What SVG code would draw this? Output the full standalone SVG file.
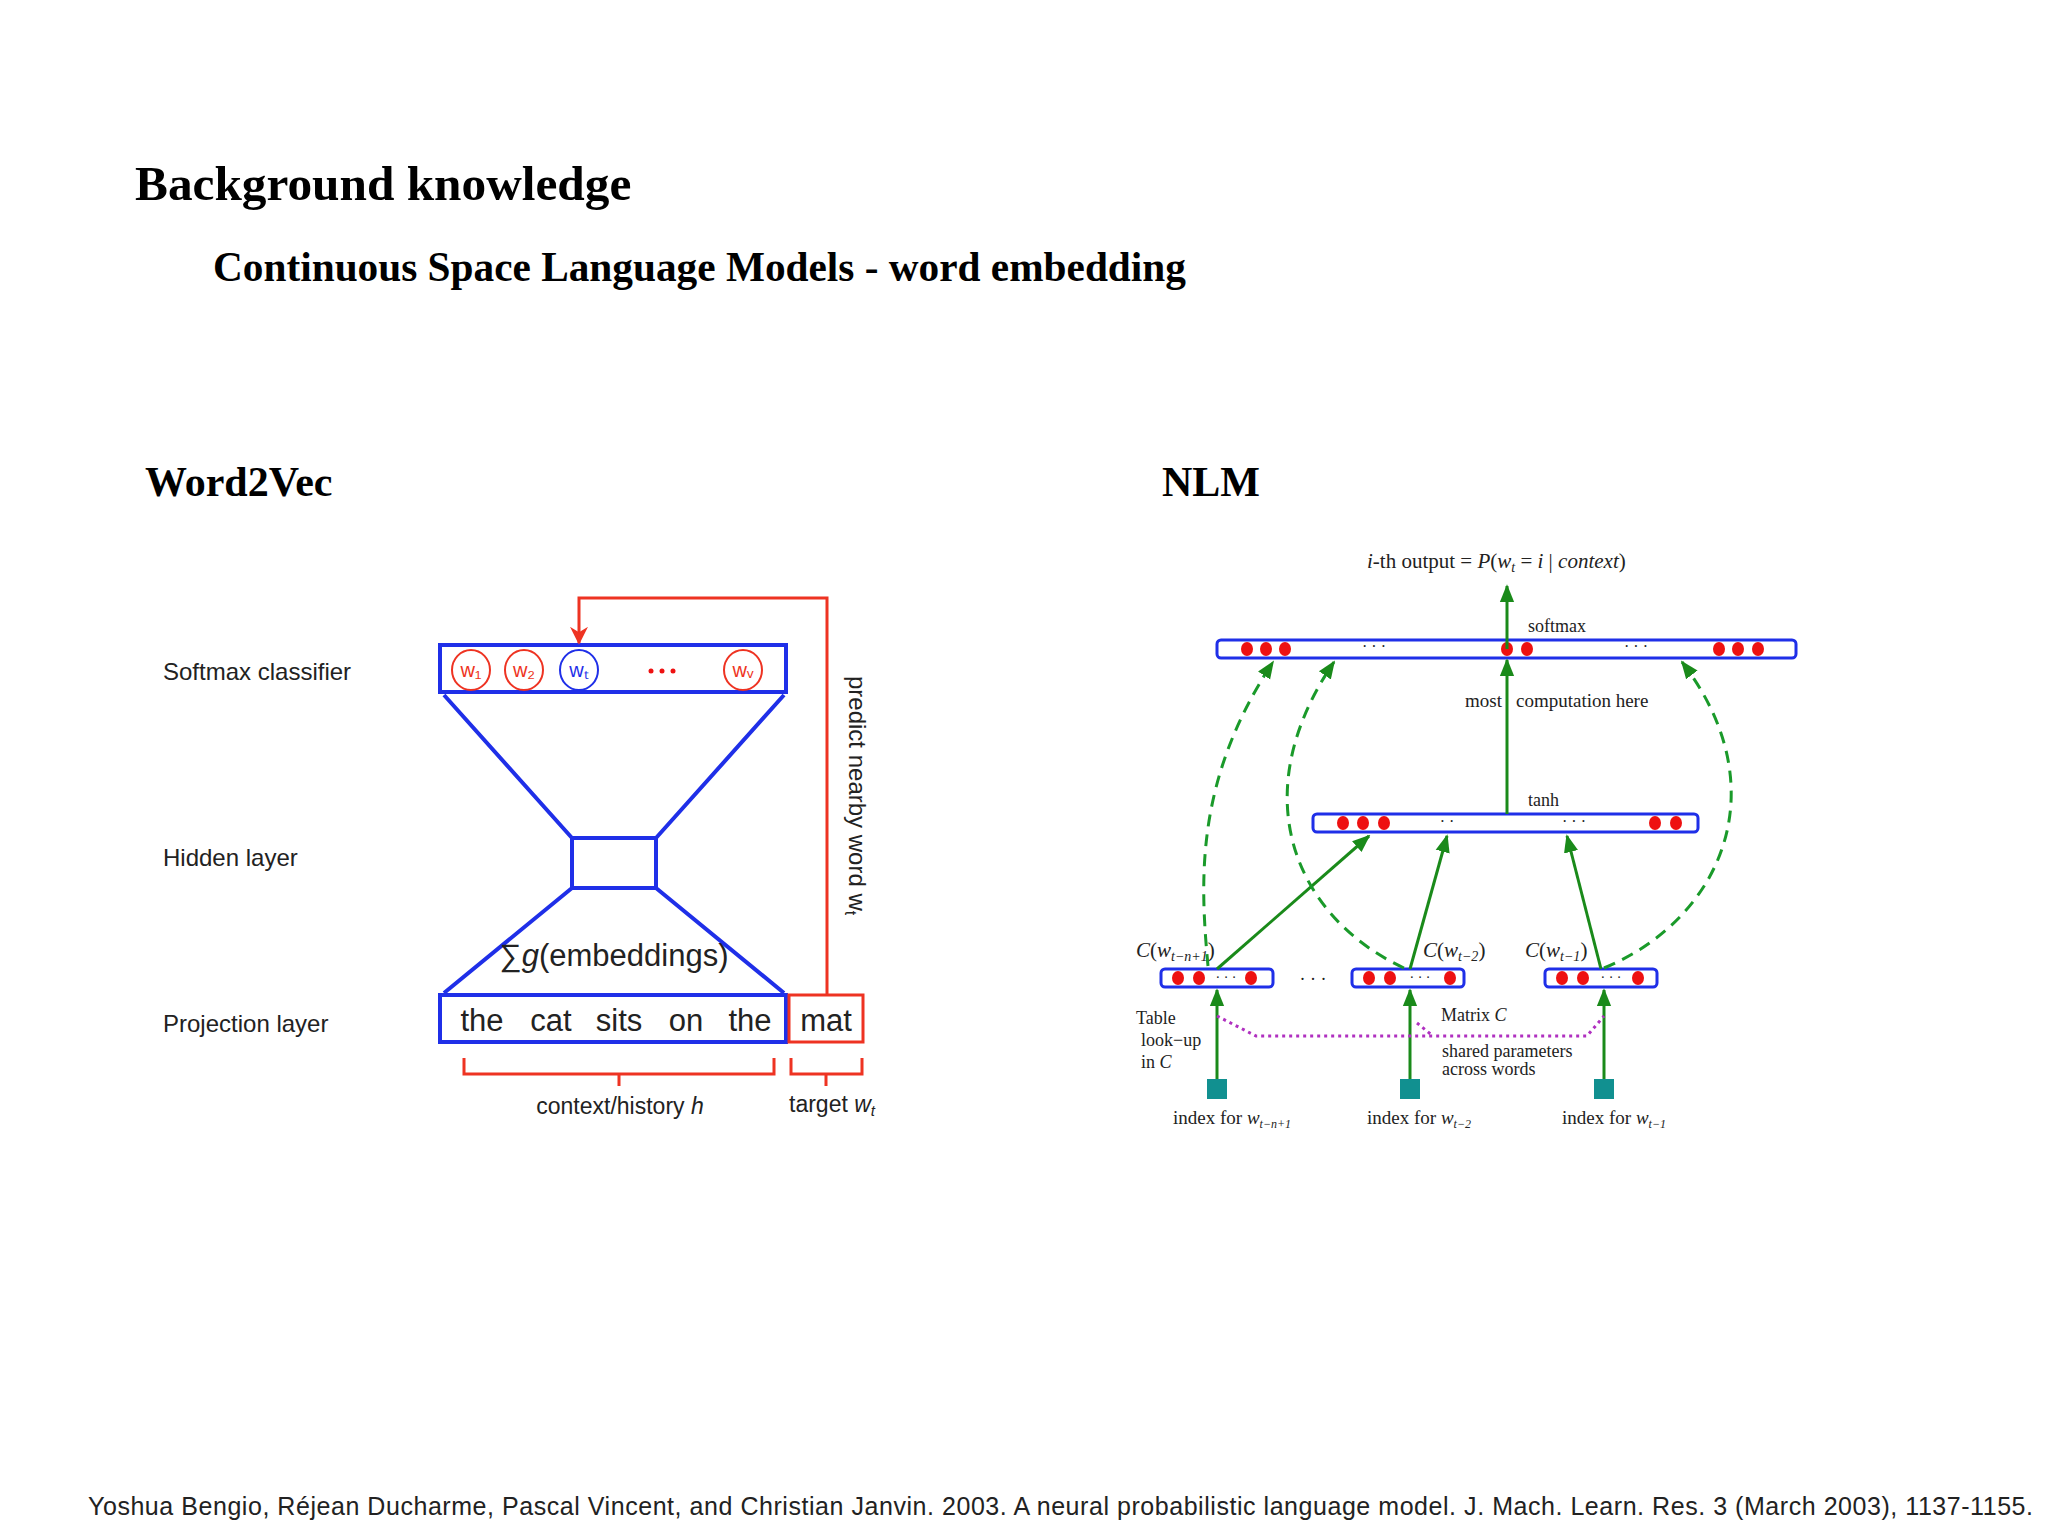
<svg xmlns="http://www.w3.org/2000/svg" width="2048" height="1536" viewBox="0 0 2048 1536">
<style>
.h{font-family:"Liberation Serif",serif;font-weight:bold;fill:#000}
.s{font-family:"Liberation Sans",Arial,sans-serif;fill:#222}
.r{font-family:"Liberation Serif",serif;fill:#222}
.b{fill:none;stroke:#1f2fe8;stroke-width:4}
.rd{fill:none;stroke:#ee3322;stroke-width:3}
.g{fill:none;stroke:#1a8a1a;stroke-width:3}
.gd{fill:none;stroke:#1a9a2a;stroke-width:3;stroke-dasharray:12 8}
.bar{fill:#fff;stroke:#1f2fe8;stroke-width:3}
.dot{fill:#ee1111}
.sq{fill:#119090}
</style>
<defs>
<marker id="ag" viewBox="0 0 10 10" refX="9" refY="5" markerWidth="6" markerHeight="6" orient="auto"><path d="M0,1 L10,5 L0,9 z" fill="#1a8a1a"/></marker>
<marker id="ar" viewBox="0 0 10 10" refX="9" refY="5" markerWidth="6" markerHeight="6" orient="auto"><path d="M0,0 L10,5 L0,10 L3,5 z" fill="#ee3322"/></marker>
</defs>
<rect width="2048" height="1536" fill="#fff"/>
<text class="h" x="135" y="200" font-size="49.3">Background knowledge</text>
<text class="h" x="213" y="281" font-size="41.3">Continuous Space Language Models - word embedding</text>
<text class="h" x="145" y="496" font-size="42">Word2Vec</text>
<text class="h" x="1162" y="496" font-size="42">NLM</text>

<g id="w2v-labels" class="s" font-size="24">
<text x="163" y="680">Softmax classifier</text>
<text x="163" y="866">Hidden layer</text>
<text x="163" y="1032">Projection layer</text>
</g>
<g id="w2v-softmax">
<rect class="b" x="440" y="645" width="346" height="47"/>
<g fill="none" stroke="#ee3322" stroke-width="2">
<ellipse cx="471" cy="670" rx="19" ry="20"/><ellipse cx="524" cy="670" rx="19" ry="20"/><ellipse cx="743" cy="670" rx="19" ry="20"/></g>
<ellipse cx="579" cy="670" rx="19" ry="20" fill="none" stroke="#1f2fe8" stroke-width="2"/>
<g class="s" font-size="20" text-anchor="middle"><text x="471" y="677" fill="#ee3322">w₁</text><text x="524" y="677" fill="#ee3322">w₂</text><text x="579" y="677" fill="#1f2fe8">wₜ</text><text x="743" y="677" fill="#ee3322">wᵥ</text></g>
<g class="dot"><circle cx="651" cy="671" r="2.5"/><circle cx="662" cy="671" r="2.5"/><circle cx="673" cy="671" r="2.5"/></g>
</g>
<g id="w2v-hidden">
<path class="b" d="M444,695 L572,838 M784,695 L656,838 M572,888 L444,993 M656,888 L784,993"/>
<rect class="b" x="572" y="838" width="84" height="50"/>
<text class="s" x="614" y="966" font-size="31" text-anchor="middle">∑<tspan font-style="italic">g</tspan>(embeddings)</text>
</g>
<g id="w2v-projection">
<rect class="b" x="440" y="995" width="346" height="47"/>
<g class="s" font-size="31" text-anchor="middle" fill="#111"><text x="482" y="1031">the</text><text x="551" y="1031">cat</text><text x="619" y="1031">sits</text><text x="686" y="1031">on</text><text x="750" y="1031">the</text></g>
</g>
<g id="w2v-target">
<rect class="rd" x="789" y="995" width="74" height="47" stroke-width="4"/>
<text class="s" x="826" y="1031" font-size="31" text-anchor="middle" fill="#111">mat</text>
</g>
<g id="w2v-connectors">
<path class="rd" d="M827,995 L827,598 L579,598 L579,643" marker-end="url(#ar)"/>
<path class="rd" d="M464,1058 L464,1074 L774,1074 L774,1058 M619,1074 L619,1086"/>
<path class="rd" d="M791,1058 L791,1074 L862,1074 L862,1058 M826,1074 L826,1086"/>
</g>
<text class="s" font-size="24" transform="translate(849,676) rotate(90)">predict nearby word w<tspan font-size="16" dy="4">t</tspan></text>
<text class="s" x="620" y="1114" font-size="23" text-anchor="middle">context/history <tspan font-style="italic">h</tspan></text>
<text class="s" x="789" y="1112" font-size="23">target <tspan font-style="italic">w<tspan font-size="15" dy="4">t</tspan></tspan></text>

<text class="r" x="1367" y="568" font-size="21"><tspan font-style="italic">i</tspan>-th output = <tspan font-style="italic">P</tspan>(<tspan font-style="italic">w<tspan font-size="14" dy="4">t</tspan></tspan><tspan dy="-4"> = </tspan><tspan font-style="italic">i</tspan> | <tspan font-style="italic">context</tspan>)</text>
<g id="nlm-softmax">
<rect class="bar" x="1217" y="640" width="579" height="18" rx="4"/>
<text class="r" x="1528" y="632" font-size="18">softmax</text>
<g class="dot"><ellipse cx="1247" cy="649" rx="6" ry="7"/><ellipse cx="1266" cy="649" rx="6" ry="7"/><ellipse cx="1285" cy="649" rx="6" ry="7"/><ellipse cx="1507" cy="649" rx="6" ry="7"/><ellipse cx="1527" cy="649" rx="6" ry="7"/><ellipse cx="1719" cy="649" rx="6" ry="7"/><ellipse cx="1738" cy="649" rx="6" ry="7"/><ellipse cx="1758" cy="649" rx="6" ry="7"/></g>
<text class="r" x="1374" y="652" font-size="16" text-anchor="middle">· · ·</text>
<text class="r" x="1636" y="652" font-size="16" text-anchor="middle">· · ·</text>
</g>
<g id="nlm-tanh">
<rect class="bar" x="1313" y="814" width="385" height="18" rx="4"/>
<text class="r" x="1528" y="806" font-size="18">tanh</text>
<g class="dot"><ellipse cx="1343" cy="823" rx="6" ry="7"/><ellipse cx="1363" cy="823" rx="6" ry="7"/><ellipse cx="1384" cy="823" rx="6" ry="7"/><ellipse cx="1655" cy="823" rx="6" ry="7"/><ellipse cx="1676" cy="823" rx="6" ry="7"/></g>
<text class="r" x="1447" y="827" font-size="16" text-anchor="middle">· ·</text>
<text class="r" x="1574" y="827" font-size="16" text-anchor="middle">· · ·</text>
</g>
<text class="r" x="1465" y="707" font-size="19">most<tspan dx="14">computation here</tspan></text>
<g id="nlm-c1">
<rect class="bar" x="1161" y="969" width="112" height="18" rx="4"/>
<g class="dot"><ellipse cx="1178" cy="978" rx="6" ry="7"/><ellipse cx="1199" cy="978" rx="6" ry="7"/><ellipse cx="1251" cy="978" rx="6" ry="7"/></g>
<text class="r" x="1226" y="982" font-size="14" text-anchor="middle">· · ·</text>
<text class="r" x="1136" y="957" font-size="21"><tspan font-style="italic">C</tspan>(<tspan font-style="italic">w<tspan font-size="14" dy="4">t−n+1</tspan></tspan><tspan dy="-4">)</tspan></text>
</g>
<g id="nlm-c2">
<rect class="bar" x="1352" y="969" width="112" height="18" rx="4"/>
<g class="dot"><ellipse cx="1369" cy="978" rx="6" ry="7"/><ellipse cx="1390" cy="978" rx="6" ry="7"/><ellipse cx="1450" cy="978" rx="6" ry="7"/></g>
<text class="r" x="1420" y="982" font-size="14" text-anchor="middle">· · ·</text>
<text class="r" x="1423" y="957" font-size="21"><tspan font-style="italic">C</tspan>(<tspan font-style="italic">w<tspan font-size="14" dy="4">t−2</tspan></tspan><tspan dy="-4">)</tspan></text>
</g>
<g id="nlm-c3">
<rect class="bar" x="1545" y="969" width="112" height="18" rx="4"/>
<g class="dot"><ellipse cx="1562" cy="978" rx="6" ry="7"/><ellipse cx="1583" cy="978" rx="6" ry="7"/><ellipse cx="1638" cy="978" rx="6" ry="7"/></g>
<text class="r" x="1611" y="982" font-size="14" text-anchor="middle">· · ·</text>
<text class="r" x="1525" y="957" font-size="21"><tspan font-style="italic">C</tspan>(<tspan font-style="italic">w<tspan font-size="14" dy="4">t−1</tspan></tspan><tspan dy="-4">)</tspan></text>
</g>
<text class="r" x="1313" y="985" font-size="18" text-anchor="middle">· · ·</text>
<g id="nlm-index">
<rect class="sq" x="1207" y="1079" width="20" height="20"/>
<rect class="sq" x="1400" y="1079" width="20" height="20"/>
<rect class="sq" x="1594" y="1079" width="20" height="20"/>
<g class="r" font-size="19">
<text x="1173" y="1124">index for <tspan font-style="italic">w<tspan font-size="12" dy="4">t−n+1</tspan></tspan></text>
<text x="1367" y="1124">index for <tspan font-style="italic">w<tspan font-size="12" dy="4">t−2</tspan></tspan></text>
<text x="1562" y="1124">index for <tspan font-style="italic">w<tspan font-size="12" dy="4">t−1</tspan></tspan></text>
</g>
</g>
<g class="r" font-size="18">
<text x="1136" y="1024">Table</text><text x="1141" y="1046">look−up</text><text x="1141" y="1068">in <tspan font-style="italic">C</tspan></text>
<text x="1441" y="1021">Matrix <tspan font-style="italic">C</tspan></text>
<text x="1442" y="1057">shared parameters</text><text x="1442" y="1075">across words</text>
</g>
<g id="nlm-connectors">
<path class="g" d="M1507,649 L1507,586" marker-end="url(#ag)"/>
<path class="g" d="M1507,814 L1507,660" marker-end="url(#ag)"/>
<path class="g" d="M1217,969 L1369,836" marker-end="url(#ag)"/>
<path class="g" d="M1410,969 L1447,836" marker-end="url(#ag)"/>
<path class="g" d="M1601,969 L1567,836" marker-end="url(#ag)"/>
<path class="g" d="M1217,1079 L1217,990" marker-end="url(#ag)"/>
<path class="g" d="M1410,1079 L1410,990" marker-end="url(#ag)"/>
<path class="g" d="M1604,1079 L1604,990" marker-end="url(#ag)"/>
<path class="gd" d="M1208,966 C1200,880 1195,780 1273,662" marker-end="url(#ag)"/>
<path class="gd" d="M1404,968 C1300,920 1240,800 1334,662" marker-end="url(#ag)"/>
<path class="gd" d="M1604,968 C1720,920 1780,790 1682,662" marker-end="url(#ag)"/>
<path d="M1217,1016 L1256,1036 L1587,1036 L1604,1016 M1417,1023 L1433,1036" fill="none" stroke="#b030c0" stroke-width="3" stroke-dasharray="3 4"/>
</g>
<text class="s" x="88" y="1515" font-size="25" textLength="1945">Yoshua Bengio, Réjean Ducharme, Pascal Vincent, and Christian Janvin. 2003. A neural probabilistic language model. J. Mach. Learn. Res. 3 (March 2003), 1137-1155.</text>
</svg>
